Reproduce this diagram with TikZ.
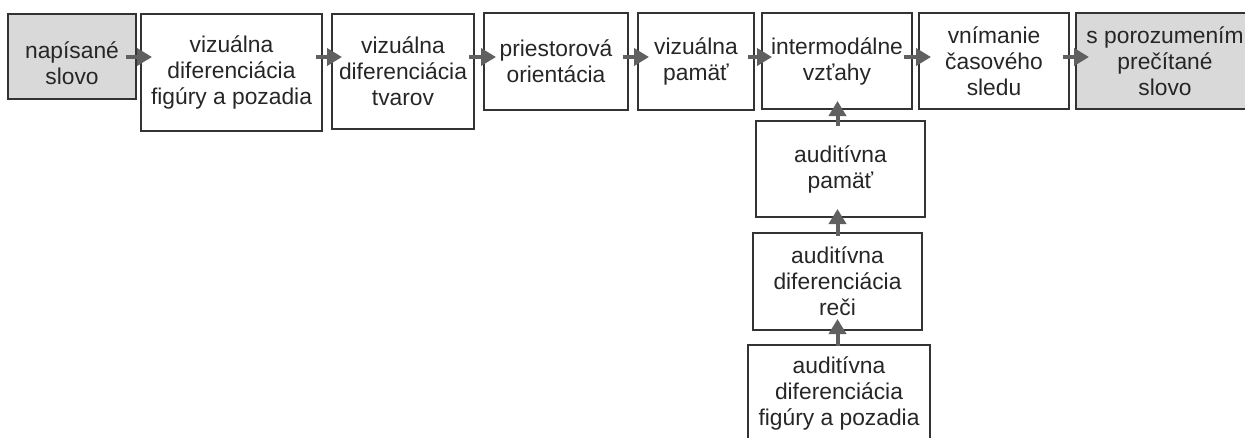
\documentclass[tikz,border=0pt]{standalone}
\usepackage{fontspec}
\setmainfont{Liberation Sans}
\usetikzlibrary{arrows.meta,calc}
\definecolor{boxline}{HTML}{333333}
\definecolor{arrowgray}{HTML}{606060}
\definecolor{boxgray}{HTML}{D9D9D9}
\tikzset{
  stepbox/.style={draw=boxline, line width=2pt, rectangle, inner sep=0pt, align=center,
    font=\fontsize{22.8}{26}\selectfont, text=black!85},
  graybox/.style={stepbox, fill=boxgray},
  boxtext/.style={inner sep=0pt, align=center, font=\fontsize{22.8}{26}\selectfont, text=black!85},
  arr/.style={draw=arrowgray, line width=4pt, -{Triangle[length=15pt,width=17pt,fill=arrowgray]}}
}
\begin{document}
\begin{tikzpicture}[x=1pt,y=-1pt]
\useasboundingbox (0,0) rectangle (1245,437);
\clip (0,0) rectangle (1245,437);
\coordinate (row) at (0,57);
\coordinate (col) at (837.5,0);
% top row
\node[graybox, minimum width=128, minimum height=85] (b1) at (72,56.5) {};
\node[boxtext] (t1) at (72,63) {napísané\\slovo};
\node[stepbox, minimum width=181, minimum height=117] (b2) at (231.5,72.5) {vizuálna\\diferenciácia\\figúry a pozadia};
\node[stepbox, minimum width=142, minimum height=115] (b3) at (403,71.5) {vizuálna\\diferenciácia\\tvarov};
\node[stepbox, minimum width=144, minimum height=97] (b4) at (556,61.5) {priestorová\\orientácia};
\node[stepbox, minimum width=116, minimum height=97] (b5) at (696,61.5) {vizuálna\\pamäť};
\node[stepbox, minimum width=150, minimum height=96] (b6) at (837,61) {intermodálne\\vzťahy};
\node[stepbox, minimum width=150, minimum height=96] (b7) at (994,61) {vnímanie\\časového\\sledu};
\node[graybox, minimum width=178, minimum height=96] (b8) at (1165,61) {s porozumením\\prečítané\\slovo};
% column
\node[stepbox, minimum width=169, minimum height=96] (b9) at (840.5,169) {auditívna\\pamäť};
\node[stepbox, minimum width=169, minimum height=97] (b10) at (837.5,281.5) {auditívna\\diferenciácia\\reči};
\node[stepbox, minimum width=182, minimum height=96] (b11) at (839,393) {auditívna\\diferenciácia\\figúry a pozadia};
% horizontal arrows
\draw[arr] ($(b1.east|-row)+(-11,0)$) -- ($(b2.west|-row)+(12,0)$);
\draw[arr] ($(b2.east|-row)+(-7,0)$) -- ($(b3.west|-row)+(11,0)$);
\draw[arr] ($(b3.east|-row)+(-6,0)$) -- ($(b4.west|-row)+(13,0)$);
\draw[arr] ($(b4.east|-row)+(-6,0)$) -- ($(b5.west|-row)+(12,0)$);
\draw[arr] ($(b5.east|-row)+(-7,0)$) -- ($(b6.west|-row)+(11,0)$);
\draw[arr] ($(b6.east|-row)+(-9,0)$) -- ($(b7.west|-row)+(13,0)$);
\draw[arr] ($(b7.east|-row)+(-7,0)$) -- ($(b8.west|-row)+(14,0)$);
% vertical arrows
\draw[arr] ($(col|-b9.north)+(0,6)$) -- ($(col|-b6.south)+(0,-9)$);
\draw[arr] ($(col|-b10.north)+(0,4)$) -- ($(col|-b9.south)+(0,-9)$);
\draw[arr] ($(col|-b11.north)+(0,2)$) -- ($(col|-b10.south)+(0,-12)$);
\end{tikzpicture}
\end{document}
